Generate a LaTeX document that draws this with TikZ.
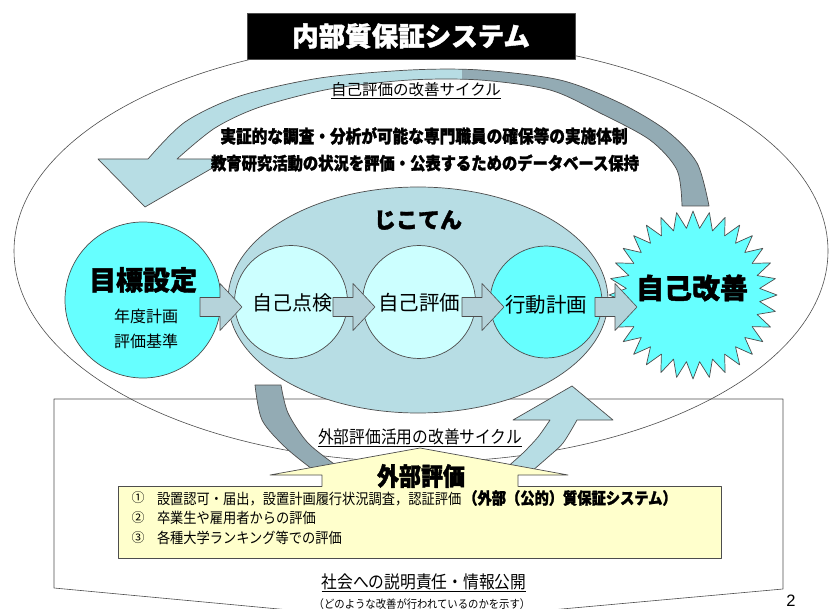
\documentclass[tikz,border=0pt]{standalone}
\usepackage{fontspec}
\setmainfont{Noto Sans CJK JP}
\newfontfamily\jpr{Noto Sans CJK JP}
\newfontfamily\jpn{Noto Sans CJK JP}[FakeStretch=0.9]
\newfontfamily\jph{Noto Sans CJK JP}[FakeBold=1.5]
\newfontfamily\jphn{Noto Sans CJK JP}[FakeBold=1.5,FakeStretch=0.88]
\newfontfamily\numfont{Liberation Sans}
\newcommand\fsz[1]{\fontsize{#1}{#1}\selectfont}
\definecolor{cyanC}{HTML}{66FFFF}
\definecolor{paleC}{HTML}{CCFFFF}
\definecolor{lightB}{HTML}{B7DDE4}
\definecolor{darkB}{HTML}{93ABB4}
\definecolor{blockB}{HTML}{B5D3DA}
\definecolor{lineG}{HTML}{4D4D4D}
\definecolor{yellowC}{HTML}{FFFFCC}
\newcommand\blkarrow[2]{\draw[blk] ({#1},{#2-9.5}) -- ({#1+20},{#2-9.5}) -- ({#1+20},{#2-23.5}) -- ({#1+42},{#2}) -- ({#1+20},{#2+23.5}) -- ({#1+20},{#2+9.5}) -- ({#1},{#2+9.5}) -- cycle;}
\newcommand\arcpath{(98,159) -- (145,207) -- (228,159) -- (177,159) -- plot[smooth] coordinates {(177,159) (215,128) (260,107) (330,89) (410,80) (480,80) (550,90) (600,113) (650,140) (677,170) (682,206)} -- (709,206) -- plot[smooth] coordinates {(709,206) (697,163) (667,131) (620,103) (560,80) (480,70) (410,70) (320,78) (240,96) (185,122) (148,159)} -- cycle}
\begin{document}
\begin{tikzpicture}[x=1pt,y=-1pt,line join=round,
  outl/.style={draw=lineG,line width=0.7pt},
  thin/.style={draw=lineG,line width=0.6pt},
  circ/.style={circle,draw=lineG,line width=0.7pt,inner sep=0pt},
  blk/.style={draw=lineG,line width=0.6pt,fill=blockB},
  txt/.style={inner sep=0pt,outer sep=0pt,align=center}]
\useasboundingbox (0,0) rectangle (837,609);
\fill[white] (0,0) rectangle (837,609);
% bottom frame
\draw[thin] (54,588) -- (54,399) -- (783,399) -- (783,589) -- (418,622) -- cycle;
% big ellipse
\draw[thin] (421,251) ellipse [x radius=407, y radius=211];
% title
\node[fill=black,draw=lineG,minimum width=328pt,minimum height=46pt,inner sep=0pt] (title) at (411,36) {\color{white}\jph\bfseries\fsz{26.5}内部質保証システム};
% top arc arrow
\fill[lightB] \arcpath;
\begin{scope}
\clip (462,0) rectangle (837,300);
\fill[darkB] \arcpath;
\end{scope}
\draw[outl] \arcpath;
% bottom arcs
\path[outl,fill=darkB] plot[smooth] coordinates {(255,385) (262,420) (285,447) (312,469)} -- plot[smooth] coordinates {(337,466) (308,443) (288,413) (281,385)} -- cycle;
\path[outl,fill=lightB] plot[smooth] coordinates {(505,469) (523,453) (538,437) (550,420)} -- (513,420) -- (572,386) -- (613,420) -- (577,420) -- plot[smooth] coordinates {(577,420) (563,443) (547,458) (532,471)} -- cycle;
% inner ellipse
\draw[outl,fill=lightB] (418,300) ellipse [x radius=190, y radius=113];
% circles
\node[circ,fill=cyanC,minimum size=156pt] (goal) at (143,300) {};
\node[circ,fill=paleC,minimum size=113pt] (check) at (291,302) {};
\node[circ,fill=paleC,minimum size=113pt] (eval) at (419,302) {};
\node[circ,fill=cyanC,minimum size=112pt] (plan) at (546,302) {};
% starburst
\draw[outl,fill=cyanC] plot[samples at={0,...,63},variable=\k] ({693+ifthenelse(isodd(\k),67,84)*cos(\k*5.625)},{295+ifthenelse(isodd(\k),67,84)*sin(\k*5.625)}) -- cycle;
\coordinate (burst) at (693,295);
% block arrows
\blkarrow{200}{307}
\blkarrow{333}{307}
\blkarrow{462}{307}
\blkarrow{595}{307}
% external box and arrow
\node[draw=lineG,line width=0.7pt,fill=yellowC,minimum width=603pt,minimum height=72pt,inner sep=0pt] (box) at (419.5,522) {};
\fill[yellowC] (322,487.5) -- (322,475) -- (270,475) -- (420,448) -- (568,475) -- (518,475) -- (518,487.5) -- cycle;
\draw[outl] (322,486.5) -- (322,475) -- (270,475) -- (420,448) -- (568,475) -- (518,475) -- (518,486.5);
% texts
\node[txt] (tcycle) at (416,91) {\jpr\fsz{15.5}\underline{自己評価の改善サイクル}};
\node[txt] (tline1) at (424,136) {\jphn\bfseries\fsz{17.8}実証的な調査・分析が可能な専門職員の確保等の実施体制};
\node[txt] (tline2) at (425,163) {\jphn\bfseries\fsz{17.4}教育研究活動の状況を評価・公表するためのデータベース保持};
\node[txt] (tjiko) at (418,220) {\jph\bfseries\fsz{22}じこてん};
\node[txt] (tgoal) at (143,280) {\jph\bfseries\fsz{27}目標設定};
\node[txt] (tg1) at (146,316) {\jpr\fsz{16}年度計画};
\node[txt] (tg2) at (146,341) {\jpr\fsz{16}評価基準};
\node[txt] (tcheck) at (292,303) {\jpr\fsz{20}自己点検};
\node[txt] (teval) at (419,303) {\jpr\fsz{20.5}自己評価};
\node[txt] (tplan) at (546,305) {\jpr\fsz{20.5}行動計画};
\node[txt] (tkaizen) at (692,288) {\jph\bfseries\fsz{28}自己改善};
\node[txt] (text) at (420,438) {\jpn\fsz{17.5}\underline{外部評価活用の改善サイクル}};
\node[txt] (tgaibu) at (421,476) {\jphn\bfseries\fsz{25}外部評価};
\node[txt] (n1) at (138,498) {\jpr\fsz{13}①};
\node[txt] (n2) at (138,518) {\jpr\fsz{13}②};
\node[txt] (n3) at (138,538) {\jpr\fsz{13}③};
\node[txt,anchor=west] (l1) at (157,498) {\jpn\fsz{14.7}設置認可・届出，設置計画履行状況調査，認証評価\hspace{2pt}{\jphn\bfseries\fsz{16.2}（外部（公的）質保証システム）}};
\node[txt,anchor=west] (l2) at (157,518) {\jpn\fsz{14.7}卒業生や雇用者からの評価};
\node[txt,anchor=west] (l3) at (157,538) {\jpn\fsz{14.7}各種大学ランキング等での評価};
\node[txt] (tsoc) at (424,583) {\jpn\fsz{17.5}\underline{社会への説明責任・情報公開}};
\node[txt] (tsoc2) at (422,604) {\jpn\fsz{11.5}（どのような改善が行われているのかを示す）};
\node[txt] (pg) at (791,601) {\numfont\fsz{16.5}2};
\end{tikzpicture}
\end{document}
